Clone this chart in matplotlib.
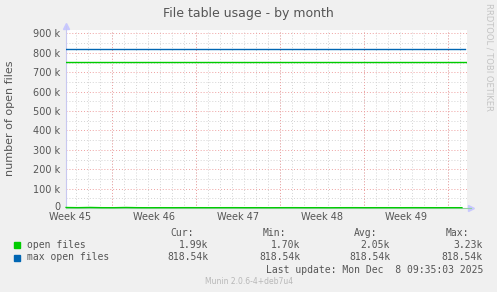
import matplotlib
matplotlib.use("Agg")
import matplotlib.pyplot as plt
import matplotlib.transforms as mtransforms
import numpy as np

W, H = 497, 292

# data (values in thousands of open files)
day = np.arange(0, 34)
open_files = [2.9, 2.1, 3.2, 2.0, 1.9, 3.0, 2.0, 1.8, 2.0, 1.9, 2.1, 2.0, 1.9, 2.0,
              2.1, 1.9, 2.0, 1.8, 2.0, 2.1, 1.9, 2.0, 1.7, 2.0, 2.1, 1.9, 2.0, 2.0,
              1.9, 2.1, 2.0, 1.9, 2.0, 2.0]
max_open_files = 818.54
warning_level = 753.0

week_labels = ["Week 45", "Week 46", "Week 47", "Week 48", "Week 49"]
y_ticks = [0, 100, 200, 300, 400, 500, 600, 700, 800, 900]
y_ticklabels = ["0"] + ["%d k" % v for v in y_ticks[1:]]

legend_rows = [
    ("open files", "#00cc00", ["1.99k", "1.70k", "2.05k", "3.23k"]),
    ("max open files", "#0066b3", ["818.54k", "818.54k", "818.54k", "818.54k"]),
]
col_heads = ["Cur:", "Min:", "Avg:", "Max:"]

BG = "#f0f0f0"
fig = plt.figure(figsize=(W / 100, H / 100), dpi=100, facecolor=BG)

# plot area in pixels: x 66..467, y 30..208
left, right, top, bottom = 66, 467, 30, 208
ax = fig.add_axes([left / W, 1 - bottom / H, (right - left) / W, (bottom - top) / H])
ax.set_facecolor("white")

xmax = (right - left) / 12.0
ymax = (bottom - top) / 0.1939
ax.set_xlim(0, xmax)
ax.set_ylim(0, ymax)

# grid: minor every day / 50k, major every week / 100k
first_major = 46 / 12.0
minor_x = np.arange(first_major - 3, xmax, 1.0)
major_x = np.arange(first_major, xmax, 7.0)
dots = (0, (1, 2))
for x in minor_x:
    ax.axvline(x, color="#d4d4d4", lw=0.7, ls=dots, zorder=1)
for y in np.arange(50, ymax, 100):
    ax.axhline(y, color="#d4d4d4", lw=0.7, ls=dots, zorder=1)
for x in major_x:
    ax.axvline(x, color="#eea0a0", lw=0.7, ls=dots, zorder=2)
for y in y_ticks[1:]:
    ax.axhline(y, color="#eea0a0", lw=0.7, ls=dots, zorder=2)

ax.axhline(max_open_files, color="#0066b3", lw=1.0, zorder=4, xmax=0.995)
ax.axhline(warning_level, color="#00cc00", lw=1.0, zorder=4)
ax.plot(day, open_files, color="#00cc00", lw=0.9, zorder=5, clip_on=False)

for s in ax.spines.values():
    s.set_visible(False)
ax.plot([0, 0], [0, ymax * 1.02], color="#c8c8f0", lw=0.8, clip_on=False, zorder=3)
ax.plot([0, xmax * 1.01], [0, 0], color="#90d0a0", lw=0.8, clip_on=False, zorder=3)
ax.plot([0], [ymax * 1.02], marker="^", color="#c8c8ff", ms=4, clip_on=False)
ax.plot([xmax * 1.01], [0], marker=">", color="#c8c8ff", ms=4, clip_on=False)

ax.set_xticks(major_x - 3.5)
ax.set_xticklabels(week_labels)
ax.set_yticks(y_ticks)
ax.set_yticklabels(y_ticklabels)
ax.tick_params(axis="both", length=0, labelsize=7, colors="#555555", pad=4)
ax.tick_params(axis="x", pad=3)

# nudge the "0" label up a little so it clears the week labels
zero_label = ax.get_yticklabels()[0]
zero_label.set_transform(zero_label.get_transform() +
                         mtransforms.ScaledTranslation(0, 2.5 / 100, fig.dpi_scale_trans))

fig.text(248 / W, 1 - 14 / H, "File table usage - by month", ha="center", va="center",
         fontsize=9, color="#555555")
fig.text(10 / W, 1 - 118 / H, "number of open files", rotation=90, ha="center",
         va="center", fontsize=8, color="#555555")
fig.text(489 / W, 1 - 57 / H, "RRDTOOL / TOBI OETIKER", rotation=270, ha="center",
         va="center", fontsize=6, color="#c4c4c4")

mono = "DejaVu Sans Mono"
col_right = [194, 286, 377, 469]
val_right = [208, 300, 390, 483]
for cx, head in zip(col_right, col_heads):
    fig.text(cx / W, 1 - 233 / H, head, ha="right", va="center", family=mono,
             fontsize=7, color="#555555")
for i, (name, color, vals) in enumerate(legend_rows):
    yy = 1 - (245 + i * 12.5) / H
    fig.patches.append(plt.Rectangle((14 / W, yy - 3 / H), 6 / W, 6 / H,
                                     transform=fig.transFigure, color=color))
    fig.text(27 / W, yy, name, ha="left", va="center", family=mono, fontsize=7,
             color="#555555")
    for vx, v in zip(val_right, vals):
        fig.text(vx / W, yy, v, ha="right", va="center", family=mono, fontsize=7,
                 color="#555555")
fig.text(483 / W, 1 - 270 / H, "Last update: Mon Dec  8 09:35:03 2025", ha="right",
         va="center", family=mono, fontsize=7, color="#555555")
fig.text(249 / W, 1 - 281 / H, "Munin 2.0.6-4+deb7u4", ha="center", va="center",
         fontsize=5.5, color="#b8b8b8")

fig.savefig("out.png", dpi=100, facecolor=BG)
